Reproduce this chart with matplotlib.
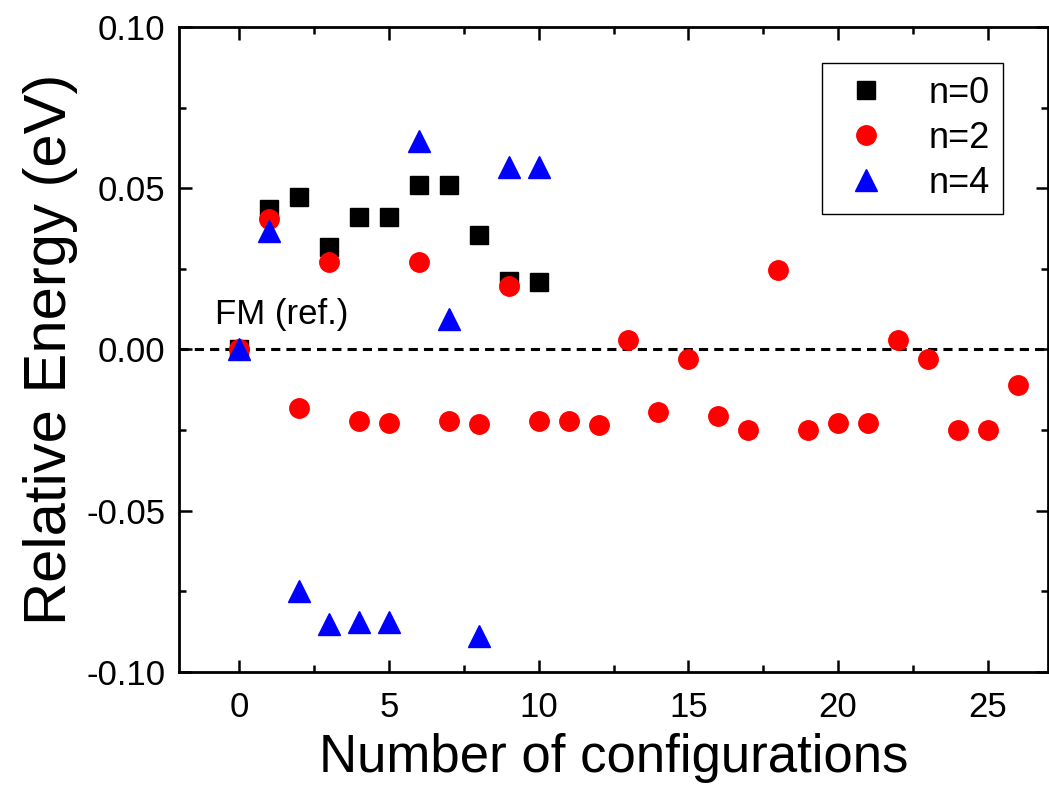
import numpy as np
import matplotlib
matplotlib.use("Agg")
import matplotlib.pyplot as plt
from matplotlib.ticker import MultipleLocator, FormatStrFormatter

plt.rcParams["font.family"] = ["Liberation Sans", "DejaVu Sans"]
plt.rcParams["axes.unicode_minus"] = False

# 数据：各构型相对能量 (eV)
x_n0 = [0, 1, 2, 3, 4, 5, 6, 7, 8, 9, 10]
e_n0 = [0.0, 0.0436, 0.0472, 0.0318, 0.0411, 0.0411, 0.0511, 0.0511, 0.0354, 0.0212, 0.0210]

x_n2 = list(range(0, 27))
e_n2 = [0.0, 0.0405, -0.0180, 0.0271, -0.0223, -0.0229, 0.0272, -0.0223, -0.0230,
        0.0198, -0.0223, -0.0223, -0.0234, 0.0029, -0.0194, -0.0031, -0.0205,
        -0.0249, 0.0246, -0.0249, -0.0228, -0.0228, 0.0029, -0.0031, -0.0249,
        -0.0249, -0.0111]

x_n4 = [0, 1, 2, 3, 4, 5, 6, 7, 8, 9, 10]
e_n4 = [0.0, 0.0367, -0.0750, -0.0850, -0.0845, -0.0845, 0.0648, 0.0093, -0.0889,
        0.0566, 0.0566]

labels = ["n=0", "n=2", "n=4"]

fig = plt.figure(figsize=(10.49, 7.89), dpi=100)
ax = fig.add_axes([0.1709, 0.1483, 0.8279, 0.8175])

ax.axhline(0, color="black", lw=2.2, ls=(0, (3.0, 2.0)), zorder=1)

ax.plot(x_n0, e_n0, ls="none", marker="s", ms=12.5, color="black",
        label=labels[0], zorder=3)
ax.plot(x_n2, e_n2, ls="none", marker="o", ms=14, color="red",
        label=labels[1], zorder=4)
ax.plot(x_n4, e_n4, ls="none", marker="^", ms=16, color="blue",
        label=labels[2], zorder=5)

ax.text(-0.8, 0.0078, "FM (ref.)", fontsize=25, ha="left", va="baseline")

ax.set_xlim(-2, 27)
ax.set_ylim(-0.10, 0.10)
ax.xaxis.set_major_locator(MultipleLocator(5))
ax.xaxis.set_minor_locator(MultipleLocator(2.5))
ax.yaxis.set_major_locator(MultipleLocator(0.05))
ax.yaxis.set_minor_locator(MultipleLocator(0.025))
ax.yaxis.set_major_formatter(FormatStrFormatter("%.2f"))

for s in ax.spines.values():
    s.set_linewidth(2.0)

ax.tick_params(which="both", direction="in", top=True, right=True,
               width=1.8, labelsize=25)
ax.tick_params(which="major", length=9, pad=10)
ax.tick_params(axis="x", which="major", pad=14)
ax.tick_params(which="minor", length=5)

ax.set_xlabel("Number of configurations", fontsize=38, labelpad=6)
ax.set_ylabel("Relative Energy (eV)", fontsize=43, labelpad=6)

leg = ax.legend(loc="upper right", bbox_to_anchor=(0.9485, 0.944),
                borderaxespad=0, fontsize=26, fancybox=False,
                edgecolor="black", framealpha=1, handletextpad=0.9,
                labelspacing=0.28, borderpad=0.35, handlelength=1.7)
leg.get_frame().set_linewidth(1.0)

fig.savefig("out.png", dpi=100)
